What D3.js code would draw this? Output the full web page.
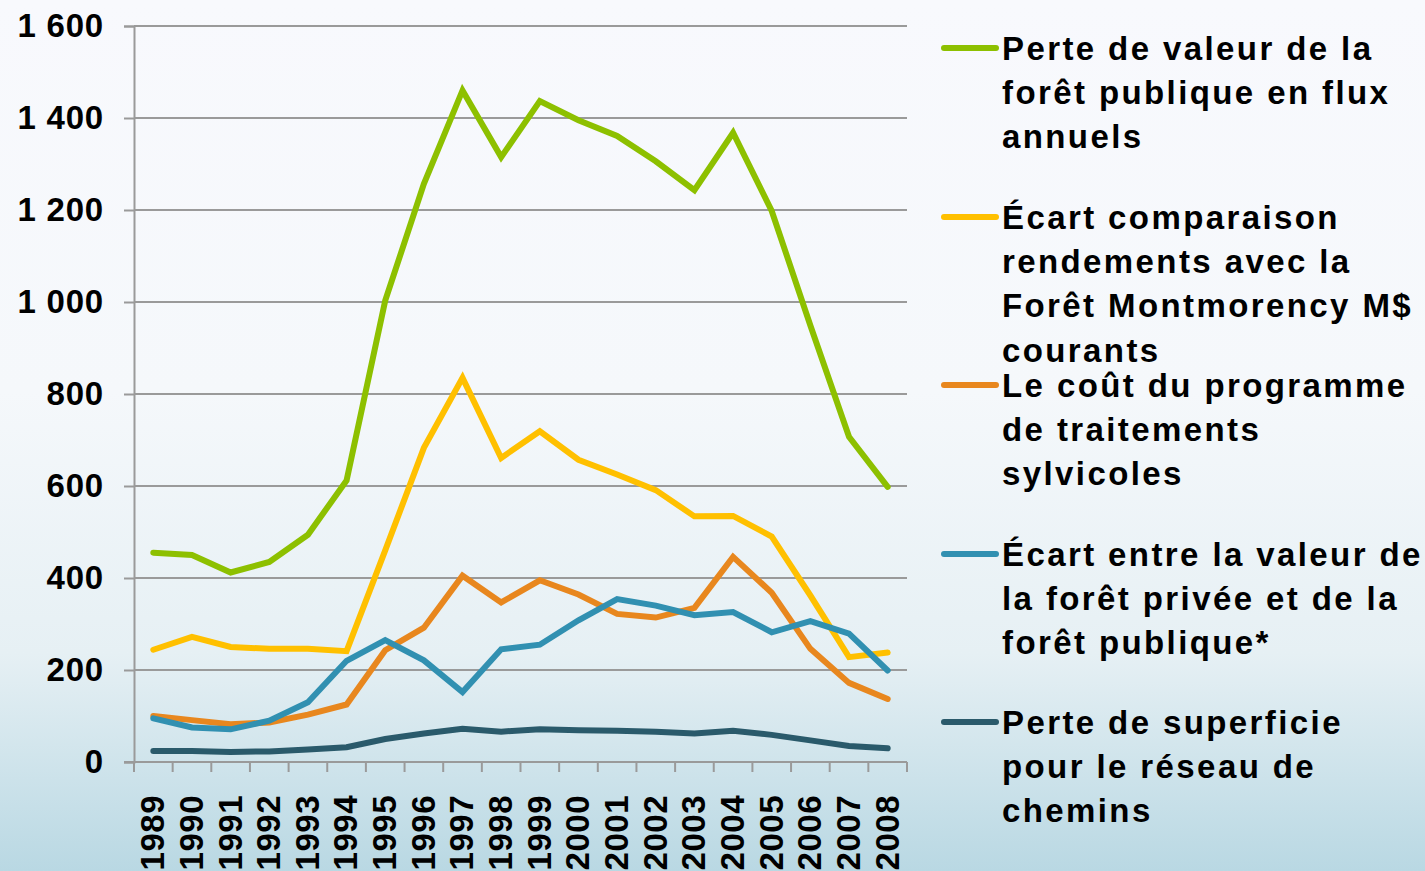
<!DOCTYPE html>
<html>
<head>
<meta charset="utf-8">
<script src="https://cdn.jsdelivr.net/npm/d3@7"></script>
<style>
  html, body { margin: 0; padding: 0; overflow: hidden; }
  svg { display: block; }
  .tick text { font-family: "Liberation Sans", Arial, sans-serif; font-weight: bold; fill: #000; }
  .legend text { font-family: "Liberation Sans", Arial, sans-serif; font-weight: bold; fill: #000; }
</style>
</head>
<body>
<svg width="1425" height="871"></svg>
<script>
var years = ["1989","1990","1991","1992","1993","1994","1995","1996","1997","1998",
             "1999","2000","2001","2002","2003","2004","2005","2006","2007","2008"];
var yTicks = [0, 200, 400, 600, 800, 1000, 1200, 1400, 1600];

var perteValeur   = [455, 450, 412, 435, 494, 612, 1003, 1257, 1460, 1315, 1437, 1395, 1361, 1306, 1243, 1368, 1198, 949, 707, 598];
var ecartRendement = [244, 272, 250, 246, 246, 241, 460, 683, 835, 661, 719, 657, 625, 591, 534, 535, 490, 362, 228, 238];
var coutTraitement = [100, 91, 82, 86, 103, 125, 243, 292, 405, 347, 395, 364, 322, 314, 335, 446, 368, 246, 172, 137];
var ecartPrivee   = [95, 75, 71, 90, 130, 220, 265, 221, 152, 245, 255, 308, 354, 340, 319, 326, 282, 306, 279, 199];
var perteSuperficie = [24, 24, 22, 23, 27, 32, 50, 62, 72, 66, 71, 69, 68, 66, 62, 68, 59, 47, 35, 30];

var seriesNames = [
  ["Perte de valeur de la", "forêt publique en flux", "annuels"],
  ["Écart comparaison", "rendements avec la", "Forêt Montmorency M$", "courants"],
  ["Le coût du programme", "de traitements", "sylvicoles"],
  ["Écart entre la valeur de", "la forêt privée et de la", "forêt publique*"],
  ["Perte de superficie", "pour le réseau de", "chemins"]
];
var seriesValues = [perteValeur, ecartRendement, coutTraitement, ecartPrivee, perteSuperficie];
var colors = ["#8dc000", "#ffc000", "#e8871e", "#3190b1", "#2a5a6b"];
var legendY = [48, 217, 385, 554, 722];

var svg = d3.select("svg");

// background
var defs = svg.append("defs");
var grad = defs.append("linearGradient").attr("id", "bg").attr("x1", 0).attr("y1", 0).attr("x2", 0).attr("y2", 1);
grad.append("stop").attr("offset", "0%").attr("stop-color", "#f8f9fd");
grad.append("stop").attr("offset", "45%").attr("stop-color", "#f5f8fb");
grad.append("stop").attr("offset", "75%").attr("stop-color", "#e6f0f4");
grad.append("stop").attr("offset", "100%").attr("stop-color", "#b9d8e3");
svg.append("rect").attr("width", 1425).attr("height", 871).attr("fill", "url(#bg)");

var margin = {top: 26, left: 134, right: 907, bottom: 762};

var x = d3.scaleBand().domain(years).range([margin.left, margin.right]);
var y = d3.scaleLinear().domain([0, 1600]).range([margin.bottom, margin.top]);

// gridlines + y axis
var yAxis = svg.append("g")
    .attr("transform", "translate(" + margin.left + ",0)")
    .call(d3.axisLeft(y).tickValues(yTicks).tickSize(10).tickPadding(20)
      .tickFormat(function(d) { return d3.format(",")(d).replace(",", " "); }));
yAxis.select(".domain").attr("stroke", "#9a9a9a").attr("stroke-width", 2);
yAxis.selectAll(".tick line").attr("stroke", "#9a9a9a").attr("stroke-width", 2);
yAxis.selectAll(".tick text").attr("font-size", 33).attr("letter-spacing", 0.8);

svg.append("g").selectAll("line")
    .data(yTicks.filter(function(d) { return d > 0; }))
    .enter().append("line")
    .attr("x1", margin.left).attr("x2", margin.right)
    .attr("y1", function(d) { return y(d); }).attr("y2", function(d) { return y(d); })
    .attr("stroke", "#9a9a9a").attr("stroke-width", 2);

// x axis
var xAxis = svg.append("g")
    .attr("transform", "translate(0," + margin.bottom + ")")
    .call(d3.axisBottom(x).tickSize(0).tickPadding(0));
xAxis.select(".domain").remove();
xAxis.append("line").attr("x1", margin.left - 10).attr("x2", margin.right)
    .attr("stroke", "#9a9a9a").attr("stroke-width", 2);
xAxis.selectAll(".tickmark")
    .data(years.concat(["end"]))
    .enter().append("line")
    .attr("x1", function(d, i) { return margin.left + i * x.step(); })
    .attr("x2", function(d, i) { return margin.left + i * x.step(); })
    .attr("y1", 0).attr("y2", 10)
    .attr("stroke", "#9a9a9a").attr("stroke-width", 2);
xAxis.selectAll(".tick text")
    .attr("font-size", 33)
    .attr("letter-spacing", 0.5)
    .attr("text-anchor", "end")
    .attr("transform", "translate(-1,33) rotate(-90)")
    .attr("x", 0).attr("y", 0).attr("dy", "0.36em");

// lines
var line = d3.line()
    .x(function(d, i) { return x(years[i]) + x.bandwidth() / 2; })
    .y(function(d) { return y(d); });

svg.append("g").selectAll("path")
    .data(seriesValues)
    .enter().append("path")
    .attr("d", line)
    .attr("fill", "none")
    .attr("stroke", function(d, i) { return colors[i]; })
    .attr("stroke-width", 6)
    .attr("stroke-linejoin", "miter")
    .attr("stroke-linecap", "round");

// legend
var legend = svg.append("g").attr("class", "legend");
seriesNames.forEach(function(lines, i) {
  legend.append("line")
    .attr("x1", 944).attr("x2", 996)
    .attr("y1", legendY[i]).attr("y2", legendY[i])
    .attr("stroke", colors[i]).attr("stroke-width", 6).attr("stroke-linecap", "round");
  var t = legend.append("text")
    .attr("x", 1002).attr("y", legendY[i])
    .attr("font-size", 33)
    .attr("letter-spacing", 2.4);
  lines.forEach(function(s, j) {
    t.append("tspan").attr("x", 1002).attr("y", legendY[i] + j * 44.4).attr("dy", "0.35em").text(s);
  });
});
</script>
</body>
</html>
